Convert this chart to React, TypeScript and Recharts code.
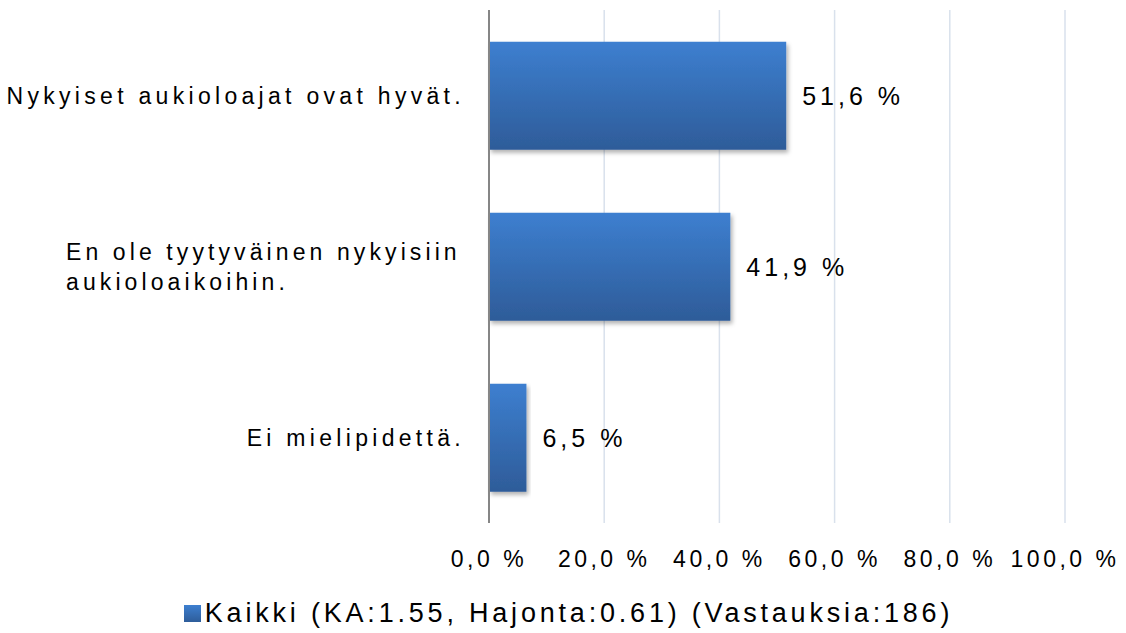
import React from 'react';
import { BarChart, Bar, XAxis, YAxis, CartesianGrid, Legend, LabelList } from 'recharts';

const categories = [
  'Nykyiset aukioloajat ovat hyvät.',
  'En ole tyytyväinen nykyisiin\naukioloaikoihin.',
  'Ei mielipidettä.',
];
const values = [51.6, 41.9, 6.5];
const xTicks = [0, 20, 40, 60, 80, 100];
const seriesName = 'Kaikki (KA:1.55, Hajonta:0.61) (Vastauksia:186)';

const data = categories.map((name, i) => ({ name, value: values[i] }));

const font = '"Liberation Sans", Arial, sans-serif';
const pct = (v: number) => `${v.toFixed(1).replace('.', ',')} %`;

const YTick = (props: any) => {
  const { x, y, payload } = props;
  const lines: string[] = String(payload.value).split('\n');
  if (lines.length === 1) {
    return (
      <text x={x - 16} y={y} dy={8} textAnchor="end" fontSize={23} letterSpacing={4.3} fill="#000" fontFamily={font}>
        {lines[0]}
      </text>
    );
  }
  // wrapped labels are left aligned as a block
  return (
    <text x={x - 415} y={y} textAnchor="start" fontSize={23} letterSpacing={4.1} fill="#000" fontFamily={font}>
      {lines.map((l, i) => (
        <tspan key={i} x={x - 415} dy={i === 0 ? -7 : 30}>
          {l}
        </tspan>
      ))}
    </text>
  );
};

const LegendContent = () => (
  <div
    style={{
      display: 'flex',
      justifyContent: 'center',
      alignItems: 'center',
      boxSizing: 'border-box',
      height: 50,
      paddingTop: 10,
      paddingLeft: 72,
      fontFamily: font,
      fontSize: 27,
      letterSpacing: 3.8,
      color: '#000',
    }}
  >
    <span style={{ display: 'inline-block', width: 17, height: 17, background: 'linear-gradient(#3d7fd0, #2e5d9a)', marginRight: 4 }} />
    <span>{seriesName}</span>
  </div>
);

const App: React.FC = () => {
  return (
    <div style={{ position: 'absolute', left: 0, top: 0, background: '#fff' }}>
      <BarChart
        width={1126}
        height={633}
        data={data}
        layout="vertical"
        margin={{ top: 10, right: 61, left: 0, bottom: 0 }}
        barCategoryGap="18.5%"
      >
        <defs>
          <linearGradient id="barFill" x1="0" y1="0" x2="0" y2="1">
            <stop offset="0%" stopColor="#3d7fd0" />
            <stop offset="100%" stopColor="#2e5c99" />
          </linearGradient>
          <filter id="barShadow" x="-5%" y="-5%" width="115%" height="125%">
            <feDropShadow dx="2" dy="3" stdDeviation="2" floodColor="#000" floodOpacity="0.3" />
          </filter>
        </defs>
        <CartesianGrid horizontal={false} stroke="#d9e1ec" strokeWidth={1.5} />
        <XAxis
          type="number"
          domain={[0, 100]}
          ticks={xTicks}
          tickFormatter={pct}
          axisLine={false}
          tickLine={false}
          height={60}
          tick={{ fontSize: 23, fill: '#000', fontFamily: font, letterSpacing: 3.5 }}
          tickMargin={22}
        />
        <YAxis
          type="category"
          dataKey="name"
          width={489}
          axisLine={{ stroke: '#868686', strokeWidth: 2 }}
          tickLine={false}
          tick={<YTick />}
        />
        <Legend verticalAlign="bottom" height={50} content={<LegendContent />} />
        <Bar dataKey="value" name={seriesName} fill="url(#barFill)" filter="url(#barShadow)" isAnimationActive={false}>
          <LabelList
            dataKey="value"
            position="right"
            offset={16}
            formatter={(v: any) => pct(Number(v))}
            style={{ fontSize: 25, fill: '#000', fontFamily: font, letterSpacing: 4 }}
          />
        </Bar>
      </BarChart>
    </div>
  );
};

export default App;
